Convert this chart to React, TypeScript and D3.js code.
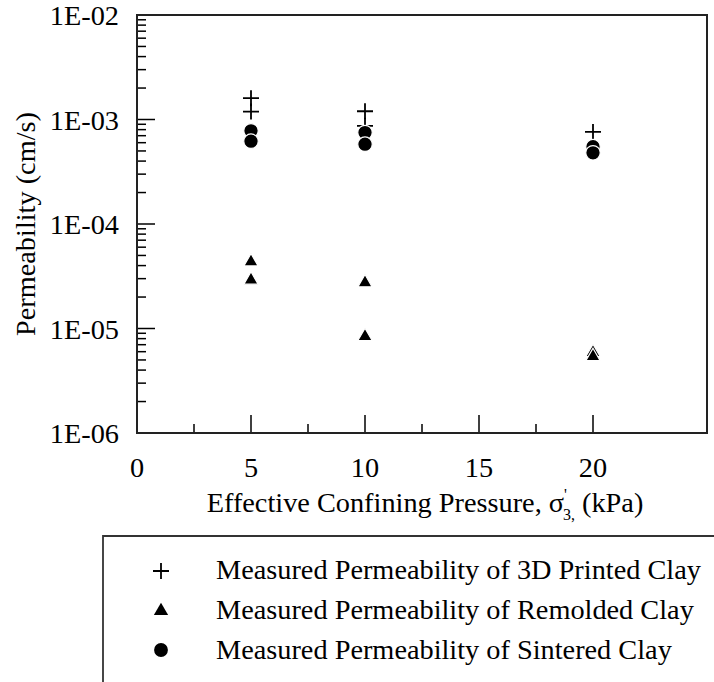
import React from "react";
import * as d3 from "d3";

const W = 714;
const H = 682;

// Data
const printedX = [5, 5, 10, 10, 20];
const printedK = [1.6e-3, 1.19e-3, 1.2e-3, 8.7e-4, 7.6e-4];
const remoldedX = [5, 5, 10, 10, 20, 20];
const remoldedK = [4.35e-5, 2.91e-5, 2.74e-5, 8.4e-6, 5.9e-6, 5.4e-6];
const sinteredX = [5, 5, 10, 10, 20, 20];
const sinteredK = [7.8e-4, 6.2e-4, 7.5e-4, 5.8e-4, 5.5e-4, 4.8e-4];

const xMajorTicks = [5, 10, 15, 20];
const xMinorTicks = [2.5, 7.5, 12.5, 17.5];
const xTickLabels = [0, 5, 10, 15, 20];
const yDecades = [1e-6, 1e-5, 1e-4, 1e-3, 1e-2];
const yTickLabels = ["1E-06", "1E-05", "1E-04", "1E-03", "1E-02"];

const legendLabels = [
  "Measured Permeability of 3D Printed Clay",
  "Measured Permeability of Remolded Clay",
  "Measured Permeability of Sintered Clay",
];

const FONT = '"Liberation Serif", "Times New Roman", Times, "DejaVu Serif", serif';
const FS = 28.3;
const ts = { fontFamily: FONT, fontSize: FS };

export default function App() {
  const left = 137, right = 707, top = 15, bottom = 433;
  const x = d3.scaleLinear().domain([0, 25]).range([left, right]);
  const y = d3.scaleLog().domain([1e-6, 1e-2]).range([bottom, top]);

  const minorY: number[] = [];
  for (let i = 0; i < yDecades.length - 1; i++) {
    for (let m = 2; m <= 9; m++) minorY.push(yDecades[i] * m);
  }

  const tri = d3.symbol().type(d3.symbolTriangle).size(88)();
  const circ = d3.symbol().type(d3.symbolCircle).size(165)();
  const plus = (cx: number, cy: number, s: number) =>
    `M${cx - s},${cy}H${cx + s}M${cx},${cy - s}V${cy + s}`;

  const legendY = [571, 611, 650];
  const legendBase = [579, 619, 659];

  return (
    <svg
      width={W}
      height={H}
      style={{ position: "absolute", left: 0, top: 0, background: "#fff" }}
    >
      <rect x={0} y={0} width={W} height={H} fill="#fff" />
      {minorY.map((v, i) => (
        <line key={"my" + i} x1={left} x2={left + 9} y1={y(v)} y2={y(v)} stroke="#000" strokeWidth={1.5} />
      ))}
      {yDecades.map((v, i) => (
        <line key={"My" + i} x1={left} x2={left + 18} y1={y(v)} y2={y(v)} stroke="#000" strokeWidth={1.5} />
      ))}
      {xMinorTicks.map((v, i) => (
        <line key={"mx" + i} x1={x(v)} x2={x(v)} y1={bottom} y2={bottom - 9} stroke="#000" strokeWidth={1.5} />
      ))}
      {xMajorTicks.map((v, i) => (
        <line key={"Mx" + i} x1={x(v)} x2={x(v)} y1={bottom} y2={bottom - 18} stroke="#000" strokeWidth={1.5} />
      ))}
      <rect x={left} y={top} width={right - left} height={bottom - top} fill="none" stroke="#222" strokeWidth={2} />

      {yDecades.map((v, i) => (
        <text key={"yl" + i} x={119} y={y(v) + 10} textAnchor="end" style={ts} fill="#000">
          {yTickLabels[i]}
        </text>
      ))}
      {xTickLabels.map((v, i) => (
        <text key={"xl" + i} x={x(v)} y={477} textAnchor="middle" style={ts} fill="#000">
          {v}
        </text>
      ))}

      <text
        transform={`translate(35,${(top + bottom) / 2}) rotate(-90)`}
        textAnchor="middle"
        style={ts}
        fill="#000"
      >
        Permeability (cm/s)
      </text>
      <text x={425} y={512} textAnchor="middle" style={ts} fill="#000">
        Effective Confining Pressure, σ
        <tspan style={{ fontSize: 16 }} dy={-12}>'</tspan>
        <tspan style={{ fontSize: 16 }} dx={-4} dy={20}>3,</tspan>
        <tspan dy={-8}> (kPa)</tspan>
      </text>

      {printedX.map((v, i) => (
        <path key={"p" + i} d={plus(x(v), y(printedK[i]), 8)} stroke="#000" strokeWidth={1.8} fill="none" />
      ))}
      {remoldedX.map((v, i) => (
        <path
          key={"r" + i}
          d={tri!}
          transform={`translate(${x(v)},${y(remoldedK[i])})`}
          fill="#000"
          stroke="#fff"
          strokeWidth={1.2}
        />
      ))}
      {sinteredX.map((v, i) => (
        <path
          key={"s" + i}
          d={circ!}
          transform={`translate(${x(v)},${y(sinteredK[i])})`}
          fill="#000"
          stroke="#fff"
          strokeWidth={1.2}
        />
      ))}

      <path d={`M103,${H + 5}V536H${W + 5}`} fill="none" stroke="#333" strokeWidth={1.8} />
      <path d={plus(161, legendY[0], 8)} stroke="#000" strokeWidth={1.8} fill="none" />
      <path d={tri!} transform={`translate(161,${legendY[1]})`} fill="#000" />
      <path d={d3.symbol().type(d3.symbolCircle).size(150)()!} transform={`translate(161,${legendY[2]})`} fill="#000" />
      {legendLabels.map((t, i) => (
        <text key={"lg" + i} x={216} y={legendBase[i]} style={ts} fill="#000">
          {t}
        </text>
      ))}
    </svg>
  );
}
